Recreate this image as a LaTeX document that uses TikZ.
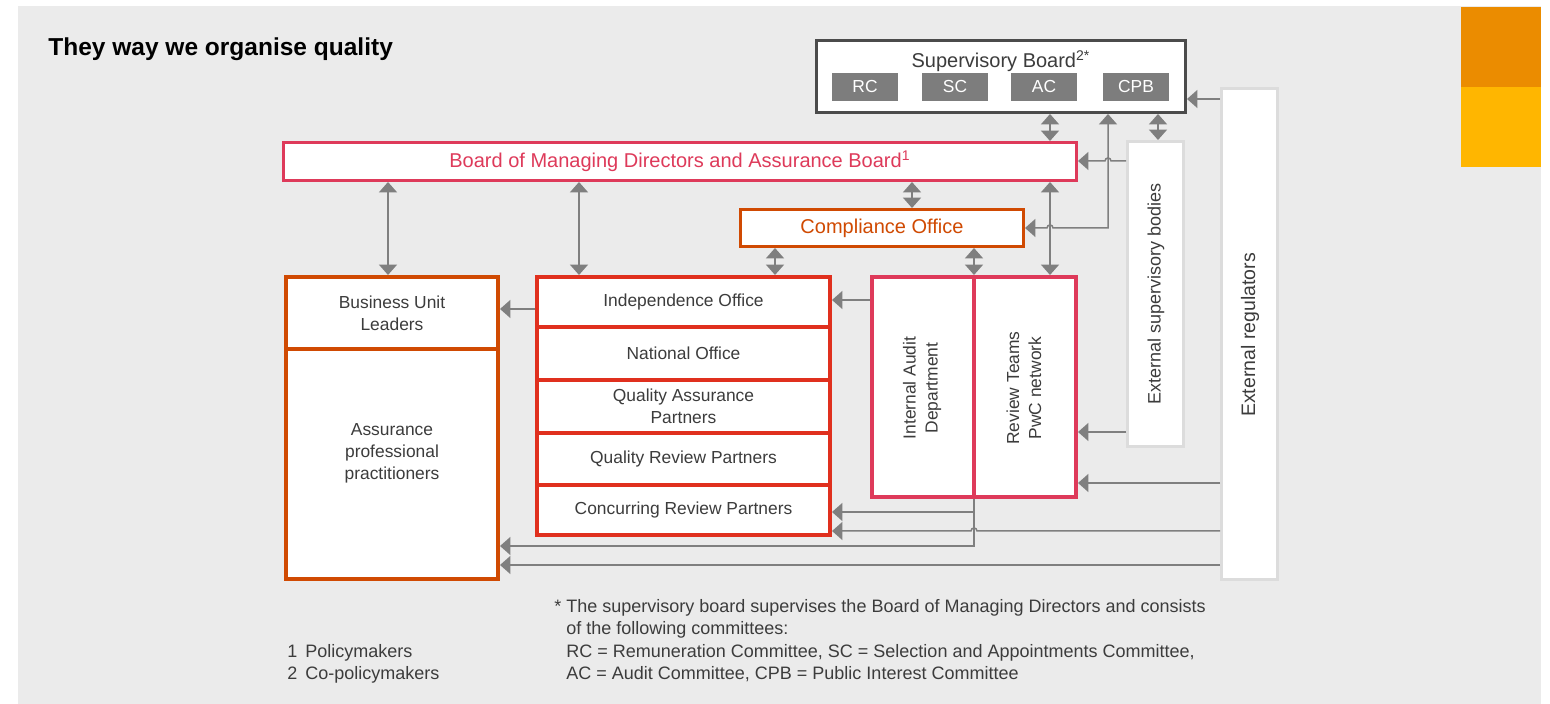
\documentclass[tikz,border=0pt]{standalone}
\usepackage{fontspec}
\setmainfont{Liberation Sans}
\usetikzlibrary{arrows.meta,calc}

\definecolor{bggray}{HTML}{EBEBEB}
\definecolor{arrgray}{HTML}{7F7F7F}
\definecolor{subgray}{HTML}{7D7D7D}
\definecolor{darkline}{HTML}{4B4B4B}
\definecolor{txtgray}{HTML}{3C3C3C}
\definecolor{rose}{HTML}{DE3A5A}
\definecolor{pwcred}{HTML}{E0301E}
\definecolor{pwcorange}{HTML}{D04A02}
\definecolor{tangerine}{HTML}{EB8C00}
\definecolor{pwcyellow}{HTML}{FFB600}
\definecolor{paleline}{HTML}{DCDCDC}

\begin{document}
\begin{tikzpicture}[x=0.5pt,y=-0.5pt,
  lblfont/.style={font=\fontsize{8.7}{11}\selectfont},
  bigfont/.style={font=\fontsize{10}{12}\selectfont},
  box/.style={draw, fill=white, inner sep=0pt, align=center, text=txtgray, lblfont},
  thinbox/.style={box, line width=1.5pt},
  thickbox/.style={box, line width=2pt},
  palebox/.style={box, draw=paleline, line width=1.5pt},
  subbox/.style={fill=subgray, text=white, inner sep=0pt, minimum width=33pt, minimum height=14pt, lblfont},
  lbl/.style={inner sep=0pt, align=center, text=txtgray, lblfont},
  fn/.style={inner sep=0pt, anchor=base west, text=txtgray, font=\fontsize{9}{11}\selectfont},
  conn/.style={draw=arrgray, line width=0.75pt},
  sgl/.style={conn, -{Triangle[width=9pt,length=5.2pt]}},
  dbl/.style={conn, {Triangle[width=9pt,length=5.2pt]}-{Triangle[width=9pt,length=5.2pt]}}
]
\useasboundingbox (0,0) rectangle (1550,704);
% page panel and corner tabs
\fill[bggray] (18,6) rectangle (1541,704);
\fill[tangerine] (1461,7) rectangle (1541,87);
\fill[pwcyellow] (1461,87) rectangle (1541,167);

% heading
\node[anchor=base west, inner sep=0pt, font=\bfseries\fontsize{12.25}{14}\selectfont] (title) at (48,56) {They way we organise quality};

% supervisory board with its committees
\node[thinbox, draw=darkline, minimum width=184.5pt, minimum height=36pt] (sup) at (1001,76.5) {};
\node[lbl, bigfont] (suptitle) at (1001,61) {Supervisory Board\textsuperscript{2*}};
\node[subbox] (rc) at (865,87) {RC};
\node[subbox] (sc) at (955,87) {SC};
\node[subbox] (ac) at (1044,87) {AC};
\node[subbox] (cpb) at (1136,87) {CPB};

% boards and offices
\node[thinbox, draw=rose, text=rose, bigfont, minimum width=396.5pt, minimum height=19pt] (bmd) at (680,161.5) {Board of Managing Directors and Assurance Board\textsuperscript{1}};
\node[thinbox, draw=pwcorange, text=pwcorange, bigfont, minimum width=141.5pt, minimum height=18.5pt] (comp) at (882,228) {Compliance Office};

% left column
\node[thickbox, draw=pwcorange, minimum width=106pt, minimum height=36pt] (bul) at (392,313) {Business Unit\\Leaders};
\node[thickbox, draw=pwcorange, minimum width=106pt, minimum height=115pt] (app) at (392,464) {};
\node[lbl] (appT) at (392,453) {Assurance\\professional\\practitioners};

% middle column
\node[thickbox, draw=pwcred, minimum width=146.5pt, minimum height=25pt] (io) at (683.5,302) {Independence Office};
\node[thickbox, draw=pwcred, minimum width=146.5pt, minimum height=26.5pt] (no) at (683.5,353.5) {National Office};
\node[thickbox, draw=pwcred, minimum width=146.5pt, minimum height=26.5pt] (qa) at (683.5,406.5) {Quality Assurance\\Partners};
\node[thickbox, draw=pwcred, minimum width=146.5pt, minimum height=26pt] (qr) at (683.5,459) {Quality Review Partners};
\node[thickbox, draw=pwcred, minimum width=146.5pt, minimum height=25pt] (cr) at (683.5,510) {Concurring Review Partners};

% audit and review
\node[thickbox, draw=rose, minimum width=51pt, minimum height=110pt] (iad) at (923,387) {};
\node[thickbox, draw=rose, minimum width=51pt, minimum height=110pt] (rt) at (1025,387) {};
\node[lbl, rotate=90] (iadT) at (922,388) {Internal Audit\\Department};
\node[lbl, rotate=90] (rtT) at (1024,388) {Review Teams\\PwC network};

% external parties
\node[palebox, minimum width=28pt, minimum height=152.5pt] (esb) at (1155.5,294) {};
\node[palebox, minimum width=28pt, minimum height=245.5pt] (ereg) at (1249.5,334) {};
\node[lbl, rotate=90, font=\fontsize{9}{11}\selectfont] (esbT) at (1156,294) {External supervisory bodies};
\node[lbl, rotate=90, font=\fontsize{9.75}{12}\selectfont] (eregT) at (1250,335) {External regulators};

% connector columns and rows
\coordinate (xBUL) at (388,0);
\coordinate (xIO) at (579,0);
\coordinate (xCOI) at (775,0);
\coordinate (xCOB) at (912,0);
\coordinate (xIA) at (974,0);
\coordinate (xRT) at (1050,0);
\coordinate (xCP) at (1108,0);
\coordinate (xESB) at (1158,0);
\coordinate (yR1) at (0,99);
\coordinate (yE1) at (0,161);
\coordinate (yIA) at (0,300);
\coordinate (yIO) at (0,309);
\coordinate (yE2) at (0,432);
\coordinate (yR2) at (0,483);
\coordinate (yA) at (0,512);
\coordinate (yB) at (0,531);
\coordinate (yC) at (0,546);
\coordinate (yD) at (0,565);

% connectors
\draw[dbl] (sup.south -| xRT) -- (bmd.north -| xRT);
\draw[dbl] (sup.south -| xESB) -- (esb.north -| xESB);
\draw[sgl] (ereg.west |- yR1) -- (sup.east |- yR1);
\draw[sgl] (esb.west |- yE1) -- ($(xCP |- yE1)+(3,0)$) .. controls +(0,-4) and +(0,-4) .. ($(xCP |- yE1)+(-3,0)$) -- (bmd.east |- yE1);
\draw[dbl] (sup.south -| xCP) -- (xCP |- comp.east) -- ($(xRT |- comp.east)+(3,0)$) .. controls +(0,-4) and +(0,-4) .. ($(xRT |- comp.east)+(-3,0)$) -- (comp.east);
\draw[dbl] (bmd.south -| xRT) -- (rt.north -| xRT);
\draw[dbl] (bmd.south -| xCOB) -- (comp.north -| xCOB);
\draw[dbl] (comp.south -| xCOI) -- (io.north -| xCOI);
\draw[dbl] (comp.south -| xIA) -- (iad.north -| xIA);
\draw[dbl] (bmd.south -| xBUL) -- (bul.north -| xBUL);
\draw[dbl] (bmd.south -| xIO) -- (io.north -| xIO);
\draw[sgl] (io.west |- yIO) -- (bul.east |- yIO);
\draw[sgl] (iad.west |- yIA) -- (io.east |- yIA);
\draw[sgl] (esb.west |- yE2) -- (rt.east |- yE2);
\draw[sgl] (ereg.west |- yR2) -- (rt.east |- yR2);
\draw[sgl] (iad.south -| xIA) -- (xIA |- yC) -- (app.east |- yC);
\draw[sgl] (xIA |- yA) -- (cr.east |- yA);
\draw[sgl] (ereg.west |- yB) -- ($(xIA |- yB)+(3,0)$) .. controls +(0,-4) and +(0,-4) .. ($(xIA |- yB)+(-3,0)$) -- (cr.east |- yB);
\draw[sgl] (ereg.west |- yD) -- (app.east |- yD);

% notes
\node[fn] (n1) at (287,657) {1\hspace{4pt}Policymakers};
\node[fn] (n2) at (287,679) {2\hspace{4pt}Co-policymakers};
\node[fn] (s1) at (554,612) {* The supervisory board supervises the Board of Managing Directors and consists};
\node[fn] (s2) at (566,634) {of the following committees:};
\node[fn] (s3) at (566,657) {RC = Remuneration Committee, SC = Selection and Appointments Committee,};
\node[fn] (s4) at (566,679) {AC = Audit Committee, CPB = Public Interest Committee};
\end{tikzpicture}
\end{document}
